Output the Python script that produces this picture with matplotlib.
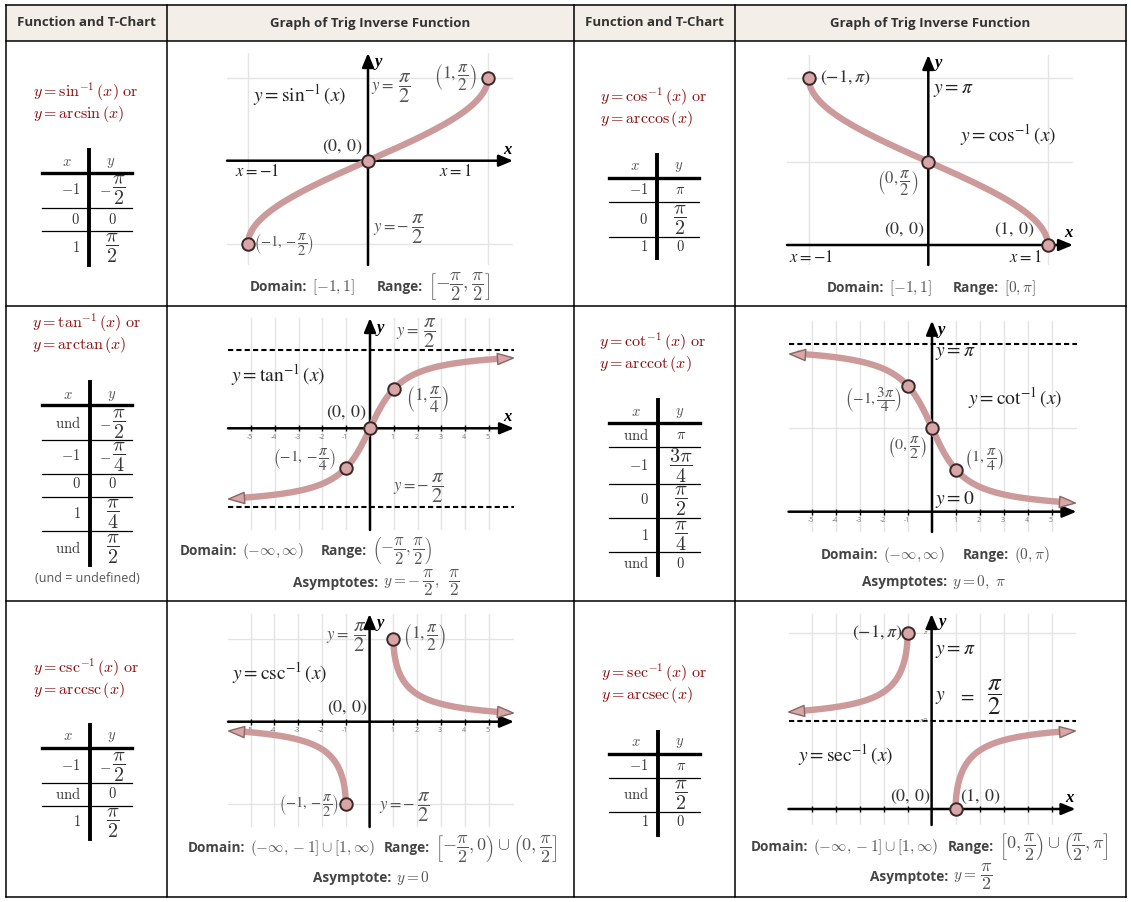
import numpy as np
import matplotlib
matplotlib.use('Agg')
import matplotlib.pyplot as plt
from matplotlib.lines import Line2D
from matplotlib.patches import Rectangle

plt.rcParams['mathtext.fontset'] = 'stix'
plt.rcParams['font.family'] = ['Open Sans', 'DejaVu Sans']

W, H = 1131, 902
PINK = '#cc9a9a'
DOT = '#d8a6a6'
EDGE = '#3a2828'
RED = '#8b0a0a'
GRID = '#e4e4e4'
INK = '#222222'
SOFT = '#555555'
FRAC = r'\dfrac'

# ---- table text ----
headers = ['Function and T-Chart', 'Graph of Trig Inverse Function',
           'Function and T-Chart', 'Graph of Trig Inverse Function']
col_edges = [6, 167, 574, 735, 1126]
row_edges = [5, 41, 306, 601, 897]

# T-chart values
UND = r'\mathrm{und}'
sin_tx = ['-1', '0', '1']
sin_ty = [r'-\dfrac{\pi}{2}', '0', r'\dfrac{\pi}{2}']
cos_tx = ['-1', '0', '1']
cos_ty = [r'\pi', r'\dfrac{\pi}{2}', '0']
tan_tx = [UND, '-1', '0', '1', UND]
tan_ty = [r'-\dfrac{\pi}{2}', r'-\dfrac{\pi}{4}', '0', r'\dfrac{\pi}{4}', r'\dfrac{\pi}{2}']
cot_tx = [UND, '-1', '0', '1', UND]
cot_ty = [r'\pi', r'\dfrac{3\pi}{4}', r'\dfrac{\pi}{2}', r'\dfrac{\pi}{4}', '0']
csc_tx = ['-1', UND, '1']
csc_ty = [r'-\dfrac{\pi}{2}', '0', r'\dfrac{\pi}{2}']
sec_tx = ['-1', UND, '1']
sec_ty = [r'\pi', r'\dfrac{\pi}{2}', '0']

# marked points on each graph
sin_px, sin_py = [-1, 0, 1], [-np.pi / 2, 0, np.pi / 2]
cos_px, cos_py = [-1, 0, 1], [np.pi, np.pi / 2, 0]
tan_px, tan_py = [-1, 0, 1], [-np.pi / 4, 0, np.pi / 4]
cot_px, cot_py = [-1, 0, 1], [3 * np.pi / 4, np.pi / 2, np.pi / 4]
csc_px, csc_py = [-1, 1], [-np.pi / 2, np.pi / 2]
sec_px, sec_py = [-1, 1], [np.pi, 0]

# x-span drawn for the unbounded curves (arrow heads sit at the ends)
tan_span = (-5.63, 5.67)
cot_span = (-5.62, 5.63)
csc_span = (-5.6, 5.69)
sec_span = (-5.63, 5.64)

int_ticks = [-5, -4, -3, -2, -1, 1, 2, 3, 4, 5]

fig = plt.figure(figsize=(W / 100, H / 100), dpi=100)
RND = fig.canvas.get_renderer()


def fx(x):
    return x / W


def fy(y):
    return 1 - y / H


def fline(xs, ys, **kw):
    fig.add_artist(Line2D([fx(v) for v in xs], [fy(v) for v in ys],
                          transform=fig.transFigure, **kw))


def ftext(x, y, s, size=11, color=INK, ha='center', va='center', **kw):
    return fig.text(fx(x), fy(y), s, fontsize=size, color=color, ha=ha, va=va, **kw)


def chain(x, y, pieces, ha='left', color=INK, **kw):
    # lay pieces of text side by side, each with its own size; (None, n) = n px gap
    texts, widths = [], []
    for s, size in pieces:
        if s is None:
            texts.append(None)
            widths.append(size)
            continue
        t = fig.text(0, fy(y), s, fontsize=size, color=color, ha='left',
                     va='center', **kw)
        texts.append(t)
        widths.append(t.get_window_extent(RND).width)
    x0 = x - {'left': 0, 'center': sum(widths) / 2, 'right': sum(widths)}[ha]
    for t, w in zip(texts, widths):
        if t is not None:
            t.set_x(fx(x0))
        x0 += w
    return x0


def letter(x, y, s):
    ftext(x, y, s, size=12, color='black', family='Liberation Serif',
          style='italic', weight='bold')


def fname(x, y, name):
    ftext(x, y, rf'$y = \mathrm{{{name}}}^{{-1}}\,(x)\ \mathrm{{or}}$', size=11.5,
          color=RED, ha='left', math_fontfamily='cm')
    ftext(x, y + 22, rf'$y = \mathrm{{arc{name}}}\,(x)$', size=11.5,
          color=RED, ha='left', math_fontfamily='cm')


def cell(x, y, s, ha='center'):
    if s.startswith('-' + FRAC):
        pieces = [('$-$', 10.5), (None, 1), (f'${s[1:]}$', 14.5)]
    elif FRAC in s:
        pieces = [(f'${s}$', 14.5)]
    else:
        pieces = [(f'${s}$', 10.5)]
    chain(x, y, pieces, ha=ha, color='#333333', math_fontfamily='cm')


def tchart(vx, x0, x1, top, bottom, thick, thins, head, rows, tx, ty):
    fline([vx, vx], [top, bottom], color='black', lw=2.8)
    fline([x0, x1], [thick, thick], color='black', lw=2.4)
    for t in thins:
        fline([x0, x1], [t, t], color='black', lw=0.9)
    ftext(vx - 22, head, '$x$', size=10.5, color='#555555', math_fontfamily='cm')
    ftext(vx + 22, head, '$y$', size=10.5, color='#555555', math_fontfamily='cm')
    for a, b, ry in zip(tx, ty, rows):
        cell(vx - 9, ry, a, ha='right')
        cell(vx + 23, ry, b)


def info_line(y, pieces, frac_size=13):
    end = 0
    for x, item in pieces:
        x = max(x, end + 5)
        if isinstance(item, list):
            end = chain(x, y, item, color='#555555', math_fontfamily='cm')
        elif item.startswith('$'):
            size = frac_size if FRAC in item else 11
            end = chain(x, y, [(item, size)], color='#555555', math_fontfamily='cm')
        else:
            end = chain(x, y, [(item, 9.8)], color='#444444', weight='bold')


def labels(items):
    for x, y, s, size, color, ha in items:
        if isinstance(s, list):
            chain(x, y, s, ha=ha, color=color)
        else:
            ftext(x, y, s, size=size, color=color, ha=ha)


def panel(ox, oy, ux, uy, left, right, top, bottom):
    ax = fig.add_axes([fx(left), fy(bottom), (right - left) / W, (bottom - top) / H])
    ax.set_xlim((left - ox) / ux, (right - ox) / ux)
    ax.set_ylim((oy - bottom) / uy, (oy - top) / uy)
    ax.axis('off')
    return ax


def grid(ax, xs=(), ys=()):
    for v in xs:
        ax.axvline(v, color=GRID, lw=1, zorder=0)
    for v in ys:
        ax.axhline(v, color=GRID, lw=1, zorder=0)


def dashed(ax, ys):
    for v in ys:
        ax.axhline(v, color='black', lw=1.5, ls=(0, (2.5, 1.5)), zorder=2)


def axes_arrows(ax):
    x0, x1 = ax.get_xlim()
    y0, y1 = ax.get_ylim()
    style = '-|>,head_length=0.6,head_width=0.25'
    for xy, xyt in [((x1, 0), (x0, 0)), ((0, y1), (0, y0))]:
        ax.annotate('', xy=xy, xytext=xyt, annotation_clip=False, zorder=3,
                    arrowprops=dict(arrowstyle=style, color='black', lw=1.8,
                                    mutation_scale=14, shrinkA=0, shrinkB=0))


def ticks(ax, xs, with_labels=True):
    ax.plot(xs, np.zeros(len(xs)), '|', color='black', ms=5, mew=1, zorder=3)
    if with_labels:
        for v in xs:
            ax.annotate(str(v), (v, 0), xytext=(-1, -9), textcoords='offset pixels',
                        ha='center', va='center', fontsize=5, color='#777777',
                        annotation_clip=False)


def end_arrow(ax, xs, ys):
    p = ax.transData.transform(np.column_stack([xs, ys]))
    a = np.arctan2(p[1, 1] - p[0, 1], p[1, 0] - p[0, 0])
    tri = np.array([[1.0, 0.0], [-1.0, 0.7], [-1.0, -0.7], [1.0, 0.0]])
    rot = np.array([[np.cos(a), -np.sin(a)], [np.sin(a), np.cos(a)]])
    ax.plot([xs[1]], [ys[1]], marker=tri @ rot.T, ms=12, mfc=DOT, mec='#8a6666',
            mew=1, zorder=5, clip_on=False)


def curve(ax, x, y, arrow_start=False, arrow_end=False):
    ax.plot(x, y, color=PINK, lw=4.6, zorder=4, clip_on=False, solid_capstyle='butt')
    if arrow_end:
        end_arrow(ax, x[-2:], y[-2:])
    if arrow_start:
        end_arrow(ax, x[1::-1], y[1::-1])


def dots(ax, xs, ys):
    ax.plot(xs, ys, 'o', ms=9, mfc=DOT, mec=EDGE, mew=1.4, zorder=6, clip_on=False)


HALF = r'$\dfrac{\pi}{2}$'
Y_EQ = [(r'$y =$', 12), (None, 4), (HALF, 15)]
Y_EQ_NEG = [(r'$y = -$', 12), (None, 2), (HALF, 15)]

# ---- table frame ----
fig.add_artist(Rectangle((fx(col_edges[0]), fy(row_edges[1])),
                         (col_edges[-1] - col_edges[0]) / W,
                         (row_edges[1] - row_edges[0]) / H,
                         transform=fig.transFigure, facecolor='#f3eee8',
                         edgecolor='none', zorder=0))
for x in col_edges:
    fline([x, x], [row_edges[0], row_edges[-1]], color='black', lw=1.1)
for y in row_edges:
    fline([col_edges[0], col_edges[-1]], [y, y], color='black', lw=1.1)
for i, h in enumerate(headers):
    ftext((col_edges[i] + col_edges[i + 1]) / 2, 23, h, size=9.5,
          color='#333333', weight='bold')

# ---- first column: names + T-charts ----
fname(33, 92, 'sin')
tchart(89, 42, 132, 150, 265, 173, [208, 231], 162, [190, 220, 248], sin_tx, sin_ty)
fname(600, 97, 'cos')
tchart(657, 609, 699, 155, 258, 178, [202, 237], 167, [191, 220, 247], cos_tx, cos_ty)
fname(32, 323, 'tan')
tchart(89.6, 42, 132, 382, 565, 405, [440, 474, 497, 531], 395,
       [424, 457, 485, 514, 549], tan_tx, tan_ty)
ftext(87, 579, '(und = undefined)', size=9, color='#555555')
fname(599, 342, 'cot')
tchart(657.7, 609, 700, 400, 575, 423, [447, 484, 518, 552], 412,
       [436, 466, 501, 536, 564], cot_tx, cot_ty)
fname(33, 668, 'csc')
tchart(89.6, 42, 132, 725, 839, 748, [783, 806], 737, [767, 795, 823], csc_tx, csc_ty)
fname(601, 673, 'sec')
tchart(657.7, 609, 700, 732, 835, 754, [778, 812], 743, [767, 795, 823], sec_tx, sec_ty)

# ---- arcsin ----
ax = panel(368, 160.7, 120, 52.9, 227, 513, 53, 265)
grid(ax, [-1, 1], [-np.pi / 2, np.pi / 2])
axes_arrows(ax)
t = np.linspace(sin_py[0], sin_py[-1], 400)
curve(ax, np.sin(t), t)
dots(ax, sin_px, sin_py)
letter(378, 62, 'y')
letter(507, 150, 'x')
labels([
    (300, 95, r'$y = \sin^{-1}\left(x\right)$', 14, INK, 'center'),
    (371, 88, Y_EQ, 0, SOFT, 'left'),
    (456, 77, r'$\left(1, \dfrac{\pi}{2}\right)$', 12.5, SOFT, 'center'),
    (342, 147, r'$\left(0,\,0\right)$', 13, '#333333', 'center'),
    (257, 172, r'$x = -1$', 12, INK, 'center'),
    (455, 172, r'$x = 1$', 12, INK, 'center'),
    (373, 229, Y_EQ_NEG, 0, SOFT, 'left'),
    (284, 245, r'$\left(-1, -\dfrac{\pi}{2}\right)$', 10.5, SOFT, 'center'),
])
info_line(287, [(250, 'Domain:'), (310, r'$[-1, 1]$'), (377, 'Range:'),
                (425, r'$\left[-\dfrac{\pi}{2}, \dfrac{\pi}{2}\right]$')], 13.5)

# ---- arccos ----
ax = panel(928.3, 245, 119.5, 53.0, 787, 1073, 55, 265)
grid(ax, [-1, 1], [np.pi, np.pi / 2])
axes_arrows(ax)
t = np.linspace(cos_py[0], cos_py[-1], 400)
curve(ax, np.cos(t), t)
dots(ax, cos_px, cos_py)
letter(938, 63, 'y')
letter(1068, 233, 'x')
labels([
    (845, 78, r'$(-1, \pi)$', 13, '#333333', 'center'),
    (933, 90, r'$y = \pi$', 14, INK, 'left'),
    (1008, 135, r'$y = \cos^{-1}\left(x\right)$', 14, INK, 'center'),
    (898, 183, r'$\left(0, \dfrac{\pi}{2}\right)$', 12, SOFT, 'center'),
    (904, 230, r'$\left(0,\,0\right)$', 13, '#333333', 'center'),
    (1014, 230, r'$\left(1,\,0\right)$', 13, '#333333', 'center'),
    (811, 258, r'$x = -1$', 12, INK, 'center'),
    (1025, 258, r'$x = 1$', 12, INK, 'center'),
])
info_line(288, [(827, 'Domain:'), (887, r'$[-1, 1]$'), (953, 'Range:'),
                (1002, r'$[0, \pi]$')])

# ---- arctan ----
ax = panel(370, 428.3, 23.8, 50.1, 228, 514, 318, 530)
grid(ax, int_ticks)
dashed(ax, [np.pi / 2, -np.pi / 2])
axes_arrows(ax)
ticks(ax, int_ticks)
xs = np.linspace(tan_span[0], tan_span[1], 400)
curve(ax, xs, np.arctan(xs), arrow_start=True, arrow_end=True)
dots(ax, tan_px, tan_py)
letter(380, 328, 'y')
letter(507, 417, 'x')
labels([
    (396, 333, Y_EQ, 0, SOFT, 'left'),
    (278, 375, r'$y = \tan^{-1}\left(x\right)$', 14, INK, 'center'),
    (346, 413, r'$\left(0,\,0\right)$', 13, '#333333', 'center'),
    (428, 399, r'$\left(1, \dfrac{\pi}{4}\right)$', 12.5, SOFT, 'center'),
    (304, 459, r'$\left(-1, -\dfrac{\pi}{4}\right)$', 11, SOFT, 'center'),
    (393, 488, Y_EQ_NEG, 0, SOFT, 'left'),
])
info_line(551, [(180, 'Domain:'), (239, r'$(-\infty, \infty)$'), (321, 'Range:'),
                (372, r'$\left(-\dfrac{\pi}{2}, \dfrac{\pi}{2}\right)$')], 12)
info_line(583, [(293, 'Asymptotes:'),
                (378, [(r'$y = -$', 11), (None, 2), (HALF, 12.5), (r'$,$', 11),
                       (None, 9), (HALF, 12.5)])])

# ---- arccot ----
ax = panel(932, 511.7, 24, 53.3, 788.5, 1076.5, 320.7, 532)
grid(ax, int_ticks, [np.pi / 2])
dashed(ax, [np.pi])
axes_arrows(ax)
ticks(ax, int_ticks)
xs = np.linspace(cot_span[0], cot_span[1], 400)
curve(ax, xs, np.pi / 2 - np.arctan(xs), arrow_start=True, arrow_end=True)
dots(ax, cot_px, cot_py)
letter(941, 330, 'y')
labels([
    (935, 353, r'$y = \pi$', 14, INK, 'left'),
    (874, 400, r'$\left(-1, \dfrac{3\pi}{4}\right)$', 11, SOFT, 'center'),
    (1015, 398, r'$y = \cot^{-1}\left(x\right)$', 14, INK, 'center'),
    (907, 447, r'$\left(0, \dfrac{\pi}{2}\right)$', 11.5, SOFT, 'center'),
    (984, 459, r'$\left(1, \dfrac{\pi}{4}\right)$', 11.5, SOFT, 'center'),
    (935, 500, r'$y = 0$', 14, INK, 'left'),
])
info_line(555, [(821, 'Domain:'), (880, r'$(-\infty, \infty)$'), (963, 'Range:'),
                (1013, r'$(0, \pi)$')])
info_line(582, [(862, 'Asymptotes:'), (947, r'$y = 0,\ \pi$')])

# ---- arccsc ----
ax = panel(369.6, 721.7, 23.8, 52.6, 228, 514, 614, 827)
grid(ax, int_ticks, [np.pi / 2, -np.pi / 2])
axes_arrows(ax)
ticks(ax, int_ticks)
t = np.linspace(csc_py[1], np.arcsin(1 / csc_span[1]), 400)
curve(ax, 1 / np.sin(t), t, arrow_end=True)
t = np.linspace(csc_py[0], np.arcsin(1 / csc_span[0]), 400)
curve(ax, 1 / np.sin(t), t, arrow_end=True)
dots(ax, csc_px, csc_py)
letter(380, 623, 'y')
labels([
    (346, 637, Y_EQ, 0, SOFT, 'center'),
    (425, 637, r'$\left(1, \dfrac{\pi}{2}\right)$', 12.5, SOFT, 'center'),
    (280, 673, r'$y = \csc^{-1}\left(x\right)$', 14, INK, 'center'),
    (347, 708, r'$\left(0,\,0\right)$', 13, '#333333', 'center'),
    (309, 806, r'$\left(-1, -\dfrac{\pi}{2}\right)$', 10.5, SOFT, 'center'),
    (379, 807, Y_EQ_NEG, 0, SOFT, 'left'),
])
info_line(848, [(188, 'Domain:'), (246, r'$(-\infty, -1] \cup [1, \infty)$'),
                (384, 'Range:'),
                (435, r'$\left[-\dfrac{\pi}{2}, 0\right) \cup \left(0, \dfrac{\pi}{2}\right]$')])
info_line(878, [(313, 'Asymptote:'), (392, r'$y = 0$')])

# ---- arcsec ----
ax = panel(931.6, 809, 24, 55.9, 788.5, 1075.5, 614, 825)
grid(ax, int_ticks, [np.pi])
dashed(ax, [np.pi / 2])
axes_arrows(ax)
ticks(ax, int_ticks, with_labels=False)
t = np.linspace(sec_py[0], np.arccos(1 / sec_span[0]), 400)
curve(ax, 1 / np.cos(t), t, arrow_end=True)
t = np.linspace(sec_py[1], np.arccos(1 / sec_span[1]), 400)
curve(ax, 1 / np.cos(t), t, arrow_end=True)
dots(ax, sec_px, sec_py)
letter(942, 622, 'y')
letter(1069, 798, 'x')
labels([
    (877, 633, r'$(-1, \pi)$', 13, '#333333', 'center'),
    (926, 633, r'$\pi$', 4.5, '#777777', 'center'),
    (924, 720, r'$\pi/2$', 4.5, '#777777', 'center'),
    (935, 651, r'$y = \pi$', 14, INK, 'left'),
    (935, 697, [(r'$y$', 14), (None, 12), (r'$=$', 14), (None, 12), (HALF, 18)],
     0, INK, 'left'),
    (846, 755, r'$y = \sec^{-1}\left(x\right)$', 14, INK, 'center'),
    (910, 797, r'$\left(0,\,0\right)$', 13, '#333333', 'center'),
    (980, 797, r'$\left(1,\,0\right)$', 13, '#333333', 'center'),
])
info_line(847, [(751, 'Domain:'), (811, r'$(-\infty, -1] \cup [1, \infty)$'),
                (948, 'Range:'),
                (999, r'$\left[0, \dfrac{\pi}{2}\right) \cup \left(\dfrac{\pi}{2}, \pi\right]$')])
info_line(877, [(870, 'Asymptote:'), (948, [(r'$y =$', 11), (None, 4), (HALF, 13)])])

fig.savefig('out.png', dpi=100)
